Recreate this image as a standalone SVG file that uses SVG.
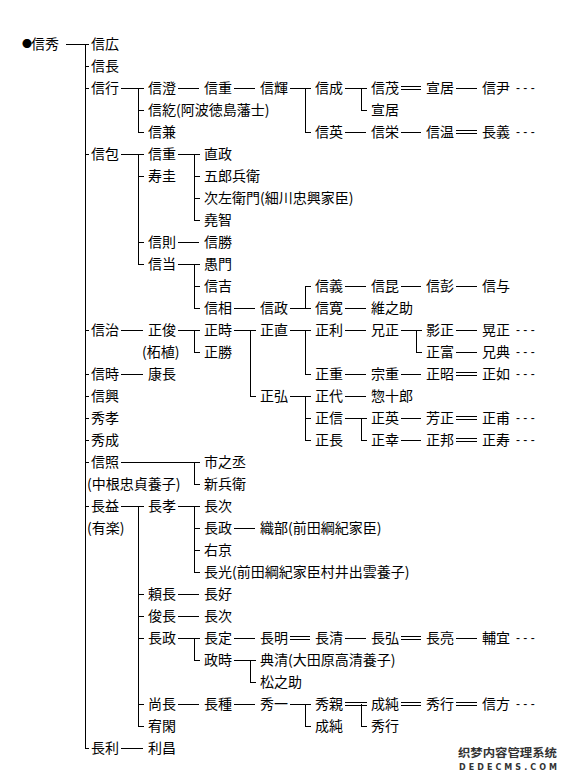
<svg xmlns="http://www.w3.org/2000/svg" width="568" height="782" viewBox="0 0 568 782">
<style>
text{font-family:"Noto Sans CJK JP","Noto Sans CJK SC",sans-serif;font-size:14px;fill:#000}
.d{font-family:"Liberation Sans",sans-serif;font-size:12px}
.ln{fill:none;stroke:#000;stroke-width:1;shape-rendering:crispEdges}
.wm1{font-family:"Noto Sans CJK SC",sans-serif;font-size:11px;font-weight:bold;fill:#333}
.wm2{font-family:"DejaVu Sans",sans-serif;font-size:8px;font-weight:bold;fill:#333}
</style>
<rect width="568" height="782" fill="#fff"/>
<g id="connectors" class="ln">
<path d="M66 44H89M85 44V748M85 66H89M85 88H89M85 154H89M85 330H89M85 374H89M85 396H89M85 418H89M85 440H89M85 462H89M85 506H89M85 748H89"/>
<path d="M121 88H144M138 88V132M138 110H144M138 132H144"/>
<path d="M178 88H199M234 88H255"/>
<path d="M290 88H311M305 88V132M305 132H311"/>
<path d="M345 88H367M361 88V110M361 110H367"/>
<path d="M401 86.5H421M401 89.5H421M456 88H477"/>
<path d="M345 132H366M401 132H421M456 130.5H477M456 133.5H477"/>
<path d="M121 154H144M138 154V264M138 176H144M138 242H144M138 264H144"/>
<path d="M178 154H200M194 154V220M194 176H200M194 198H200M194 220H200"/>
<path d="M178 242H199"/>
<path d="M178 264H200M194 264V308M194 286H200M194 308H200"/>
<path d="M234 308H255"/>
<path d="M290 308H311M305 286V308M305 286H311"/>
<path d="M345 286H366M401 286H421M456 286H477"/>
<path d="M345 308H366"/>
<path d="M121 330H143"/>
<path d="M178 330H200M194 330V352M194 352H200"/>
<path d="M234 330H256M250 330V396M250 396H256"/>
<path d="M290 330H311M305 330V374M305 374H311"/>
<path d="M345 330H366"/>
<path d="M401 330H422M416 330V352M416 352H422"/>
<path d="M456 330H477M456 352H477"/>
<path d="M345 374H366M401 374H421M456 372.5H477M456 375.5H477"/>
<path d="M290 396H311M305 396V440M305 418H311M305 440H311"/>
<path d="M345 396H366"/>
<path d="M345 418H367M361 418V440M361 440H367"/>
<path d="M401 418H421M456 416.5H477M456 419.5H477"/>
<path d="M401 440H421M456 438.5H477M456 441.5H477"/>
<path d="M121 374H143"/>
<path d="M121 462H200M194 462V484M194 484H200"/>
<path d="M121 506H144M138 506V726M138 594H144M138 616H144M138 638H144M138 704H144M138 726H144"/>
<path d="M178 506H200M194 506V572M194 528H200M194 550H200M194 572H200"/>
<path d="M234 528H255"/>
<path d="M178 594H199M178 616H199"/>
<path d="M178 638H200M194 638V660M194 660H200"/>
<path d="M234 638H255M290 636.5H310M290 639.5H310M345 638H366M401 636.5H421M401 639.5H421M456 638H477"/>
<path d="M234 660H256M250 660V682M250 682H256"/>
<path d="M178 704H199M234 704H255"/>
<path d="M290 704H311M305 704V726M305 726H311"/>
<path d="M345 702.5H367M345 705.5H367M361 704V726M361 726H367"/>
<path d="M401 702.5H421M401 705.5H421M456 702.5H477M456 705.5H477"/>
<path d="M121 748H143"/>
</g>
<g id="n-r0c0"><text x="22" y="49"><tspan font-size="10" dy="-1">●</tspan><tspan x="31" dy="1">信秀</tspan></text></g>
<g id="n-r0c1"><text x="91" y="49">信広</text></g>
<g id="n-r1c1"><text x="91" y="71">信長</text></g>
<g id="n-r2c1"><text x="91" y="93">信行</text></g>
<g id="n-r5c1"><text x="91" y="159">信包</text></g>
<g id="n-r13c1"><text x="91" y="335">信治</text></g>
<g id="n-r15c1"><text x="91" y="379">信時</text></g>
<g id="n-r16c1"><text x="91" y="401">信興</text></g>
<g id="n-r17c1"><text x="91" y="423">秀孝</text></g>
<g id="n-r18c1"><text x="91" y="445">秀成</text></g>
<g id="n-r19c1"><text x="91" y="467">信照</text><text x="87" y="489">(中根忠貞養子)</text></g>
<g id="n-r21c1"><text x="91" y="511">長益</text><text x="87" y="533">(有楽)</text></g>
<g id="n-r32c1"><text x="91" y="753">長利</text></g>
<g id="n-r2c2"><text x="148" y="93">信澄</text></g>
<g id="n-r3c2"><text x="148" y="115">信紇(阿波徳島藩士)</text></g>
<g id="n-r4c2"><text x="148" y="137">信兼</text></g>
<g id="n-r5c2"><text x="148" y="159">信重</text></g>
<g id="n-r6c2"><text x="148" y="181">寿圭</text></g>
<g id="n-r9c2"><text x="148" y="247">信則</text></g>
<g id="n-r10c2"><text x="148" y="269">信当</text></g>
<g id="n-r13c2"><text x="148" y="335">正俊</text><text x="142" y="357">(柘植)</text></g>
<g id="n-r15c2"><text x="148" y="379">康長</text></g>
<g id="n-r21c2"><text x="148" y="511">長孝</text></g>
<g id="n-r25c2"><text x="148" y="599">頼長</text></g>
<g id="n-r26c2"><text x="148" y="621">俊長</text></g>
<g id="n-r27c2"><text x="148" y="643">長政</text></g>
<g id="n-r30c2"><text x="148" y="709">尚長</text></g>
<g id="n-r31c2"><text x="148" y="731">宥閑</text></g>
<g id="n-r32c2"><text x="148" y="753">利昌</text></g>
<g id="n-r2c3"><text x="204" y="93">信重</text></g>
<g id="n-r5c3"><text x="204" y="159">直政</text></g>
<g id="n-r6c3"><text x="204" y="181">五郎兵衛</text></g>
<g id="n-r7c3"><text x="204" y="203">次左衛門(細川忠興家臣)</text></g>
<g id="n-r8c3"><text x="204" y="225">堯智</text></g>
<g id="n-r9c3"><text x="204" y="247">信勝</text></g>
<g id="n-r10c3"><text x="204" y="269">愚門</text></g>
<g id="n-r11c3"><text x="204" y="291">信吉</text></g>
<g id="n-r12c3"><text x="204" y="313">信相</text></g>
<g id="n-r13c3"><text x="204" y="335">正時</text></g>
<g id="n-r14c3"><text x="204" y="357">正勝</text></g>
<g id="n-r19c3"><text x="204" y="467">市之丞</text></g>
<g id="n-r20c3"><text x="204" y="489">新兵衛</text></g>
<g id="n-r21c3"><text x="204" y="511">長次</text></g>
<g id="n-r22c3"><text x="204" y="533">長政</text></g>
<g id="n-r23c3"><text x="204" y="555">右京</text></g>
<g id="n-r24c3"><text x="204" y="577">長光(前田綱紀家臣村井出雲養子)</text></g>
<g id="n-r25c3"><text x="204" y="599">長好</text></g>
<g id="n-r26c3"><text x="204" y="621">長次</text></g>
<g id="n-r27c3"><text x="204" y="643">長定</text></g>
<g id="n-r28c3"><text x="204" y="665">政時</text></g>
<g id="n-r30c3"><text x="204" y="709">長種</text></g>
<g id="n-r2c4"><text x="260" y="93">信輝</text></g>
<g id="n-r12c4"><text x="260" y="313">信政</text></g>
<g id="n-r13c4"><text x="260" y="335">正直</text></g>
<g id="n-r16c4"><text x="260" y="401">正弘</text></g>
<g id="n-r22c4"><text x="260" y="533">織部(前田綱紀家臣)</text></g>
<g id="n-r27c4"><text x="260" y="643">長明</text></g>
<g id="n-r28c4"><text x="260" y="665">典清(大田原高清養子)</text></g>
<g id="n-r29c4"><text x="260" y="687">松之助</text></g>
<g id="n-r30c4"><text x="260" y="709">秀一</text></g>
<g id="n-r2c5"><text x="315" y="93">信成</text></g>
<g id="n-r4c5"><text x="315" y="137">信英</text></g>
<g id="n-r11c5"><text x="315" y="291">信義</text></g>
<g id="n-r12c5"><text x="315" y="313">信寛</text></g>
<g id="n-r13c5"><text x="315" y="335">正利</text></g>
<g id="n-r15c5"><text x="315" y="379">正重</text></g>
<g id="n-r16c5"><text x="315" y="401">正代</text></g>
<g id="n-r17c5"><text x="315" y="423">正信</text></g>
<g id="n-r18c5"><text x="315" y="445">正長</text></g>
<g id="n-r27c5"><text x="315" y="643">長清</text></g>
<g id="n-r30c5"><text x="315" y="709">秀親</text></g>
<g id="n-r31c5"><text x="315" y="731">成純</text></g>
<g id="n-r2c6"><text x="371" y="93">信茂</text></g>
<g id="n-r3c6"><text x="371" y="115">宣居</text></g>
<g id="n-r4c6"><text x="371" y="137">信栄</text></g>
<g id="n-r11c6"><text x="371" y="291">信昆</text></g>
<g id="n-r12c6"><text x="371" y="313">維之助</text></g>
<g id="n-r13c6"><text x="371" y="335">兄正</text></g>
<g id="n-r15c6"><text x="371" y="379">宗重</text></g>
<g id="n-r16c6"><text x="371" y="401">惣十郎</text></g>
<g id="n-r17c6"><text x="371" y="423">正英</text></g>
<g id="n-r18c6"><text x="371" y="445">正幸</text></g>
<g id="n-r27c6"><text x="371" y="643">長弘</text></g>
<g id="n-r30c6"><text x="371" y="709">成純</text></g>
<g id="n-r31c6"><text x="371" y="731">秀行</text></g>
<g id="n-r2c7"><text x="426" y="93">宣居</text></g>
<g id="n-r4c7"><text x="426" y="137">信温</text></g>
<g id="n-r11c7"><text x="426" y="291">信彭</text></g>
<g id="n-r13c7"><text x="426" y="335">影正</text></g>
<g id="n-r14c7"><text x="426" y="357">正富</text></g>
<g id="n-r15c7"><text x="426" y="379">正昭</text></g>
<g id="n-r17c7"><text x="426" y="423">芳正</text></g>
<g id="n-r18c7"><text x="426" y="445">正邦</text></g>
<g id="n-r27c7"><text x="426" y="643">長亮</text></g>
<g id="n-r30c7"><text x="426" y="709">秀行</text></g>
<g id="n-r2c8"><text x="482" y="93">信尹</text><text class="d" x="516" y="92">- - -</text></g>
<g id="n-r4c8"><text x="482" y="137">長義</text><text class="d" x="516" y="136">- - -</text></g>
<g id="n-r11c8"><text x="482" y="291">信与</text></g>
<g id="n-r13c8"><text x="482" y="335">晃正</text><text class="d" x="516" y="334">- - -</text></g>
<g id="n-r14c8"><text x="482" y="357">兄典</text><text class="d" x="516" y="356">- - -</text></g>
<g id="n-r15c8"><text x="482" y="379">正如</text><text class="d" x="516" y="378">- - -</text></g>
<g id="n-r17c8"><text x="482" y="423">正甫</text><text class="d" x="516" y="422">- - -</text></g>
<g id="n-r18c8"><text x="482" y="445">正寿</text><text class="d" x="516" y="444">- - -</text></g>
<g id="n-r27c8"><text x="482" y="643">輔宜</text><text class="d" x="516" y="642">- - -</text></g>
<g id="n-r30c8"><text x="482" y="709">信方</text><text class="d" x="516" y="708">- - -</text></g>
<g id="watermark">
<text class="wm1" x="458" y="757" textLength="99" lengthAdjust="spacingAndGlyphs">织梦内容管理系统</text>
<text class="wm2" x="459" y="770" textLength="98">DEDECMS.COM</text>
</g>
</svg>
